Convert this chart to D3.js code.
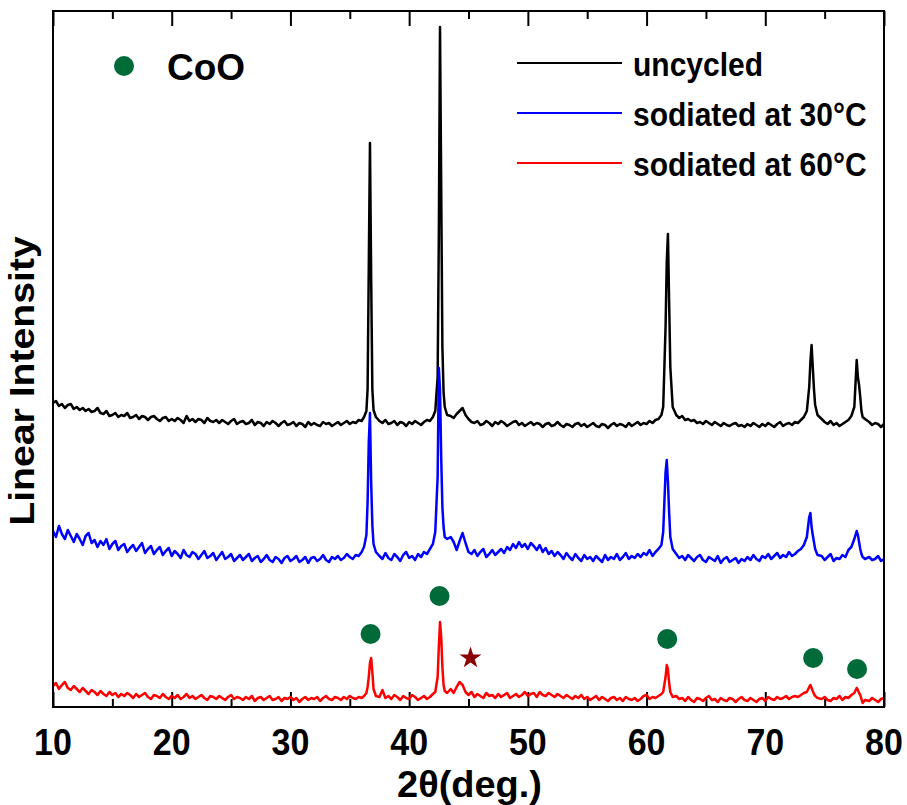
<!DOCTYPE html>
<html lang="en">
<head>
<meta charset="UTF-8"/>
<title>XRD patterns - CoO</title>
<script src="https://d3js.org/d3.v7.min.js"></script>
<style>
    body { margin: 0; background: #fff; }
    text { font-family: "Liberation Sans", Arial, sans-serif; font-weight: bold; }
</style>
</head>
<body>
<div id="chart"></div>
<script>
    // 2theta grid (deg.), finer around the reflections
    var twoTheta = [
        10, 10.25, 10.5, 10.75, 11, 11.25, 11.5, 11.75,
        12, 12.25, 12.5, 12.75, 13, 13.25, 13.5, 13.75,
        14, 14.25, 14.5, 14.75, 15, 15.25, 15.5, 15.75,
        16, 16.25, 16.5, 16.75, 17, 17.25, 17.5, 17.75,
        18, 18.25, 18.5, 18.75, 19, 19.25, 19.5, 19.75,
        20, 20.25, 20.5, 20.75, 21, 21.25, 21.5, 21.75,
        22, 22.25, 22.5, 22.75, 23, 23.25, 23.5, 23.75,
        24, 24.25, 24.5, 24.75, 25, 25.25, 25.5, 25.75,
        26, 26.25, 26.5, 26.75, 27, 27.25, 27.5, 27.75,
        28, 28.25, 28.5, 28.75, 29, 29.25, 29.5, 29.75,
        30, 30.25, 30.5, 30.75, 31, 31.25, 31.5, 31.75,
        32, 32.25, 32.5, 32.75, 33, 33.25, 33.5, 33.75,
        34, 34.25, 34.5, 34.75, 35, 35.25, 35.5, 35.75,
        36,
        36.2, 36.4, 36.5, 36.6, 36.7, 36.8, 36.9, 37.0, 37.2,
        37.5, 37.75, 38, 38.25, 38.5, 38.75, 39, 39.25, 39.5, 39.75,
        40, 40.25, 40.5, 40.75, 41, 41.25, 41.5, 41.75, 42,
        42.2, 42.4, 42.5, 42.6, 42.7, 42.8, 42.9, 43.0, 43.2,
        43.5, 43.75, 44, 44.25, 44.5, 44.75, 45, 45.25,
        45.5, 45.75, 46, 46.25, 46.5, 46.75, 47, 47.25,
        47.5, 47.75, 48, 48.25, 48.5, 48.75, 49, 49.25,
        49.5, 49.75, 50, 50.25, 50.5, 50.75, 51, 51.25,
        51.5, 51.75, 52, 52.25, 52.5, 52.75, 53, 53.25,
        53.5, 53.75, 54, 54.25, 54.5, 54.75, 55, 55.25,
        55.5, 55.75, 56, 56.25, 56.5, 56.75, 57, 57.25,
        57.5, 57.75, 58, 58.25, 58.5, 58.75, 59, 59.25,
        59.5, 59.75, 60, 60.25, 60.5, 60.75, 61, 61.25,
        61.4, 61.6, 61.7, 61.8, 61.9, 62.0, 62.2,
        62.5, 62.75, 63, 63.25, 63.5, 63.75, 64, 64.25,
        64.5, 64.75, 65, 65.25, 65.5, 65.75, 66, 66.25,
        66.5, 66.75, 67, 67.25, 67.5, 67.75, 68, 68.25,
        68.5, 68.75, 69, 69.25, 69.5, 69.75, 70, 70.25,
        70.5, 70.75, 71, 71.25, 71.5, 71.75, 72, 72.25,
        72.5, 72.75, 73, 73.25, 73.5,
        73.7, 73.8, 73.9, 74.0, 74.1, 74.2, 74.4,
        74.75, 75, 75.25, 75.5, 75.75, 76, 76.25, 76.5, 76.75, 77, 77.25, 77.5,
        77.7, 77.8, 77.9, 78.0, 78.1, 78.2, 78.4,
        78.75, 79, 79.25, 79.5, 79.75, 80
    ];

    // intensities (a.u., stacking offset included)
    var uncycled = [
        304, 306, 301, 303, 299, 302, 303, 298,
        300, 297, 299, 296, 298, 295, 296, 299,
        294, 293, 296, 291, 292, 294, 290, 292,
        291, 294, 289, 290, 292, 288, 291, 290,
        287, 290, 291, 288, 286, 289, 290, 286,
        288, 286, 289, 287, 284, 291, 286, 288,
        285, 288, 287, 284, 289, 286, 285, 287,
        284, 287, 285, 283, 286, 288, 283, 285,
        286, 283, 284, 287, 282, 285, 284, 281,
        285, 283, 286, 284, 281, 284, 286, 282,
        283, 285, 281, 284, 283, 280, 285, 282,
        284, 282, 281, 285, 283, 284, 281, 283,
        285, 282, 284, 286, 283, 285, 284, 287,
        286,
        290, 296, 318, 440, 564, 430, 318, 297, 290,
        286, 284, 287, 283, 284, 286, 282, 285, 284, 281,
        285, 283, 286, 284, 282, 285, 287, 286, 290,
        296, 330, 470, 680, 520, 360, 315, 300, 292,
        291, 289, 293, 296, 299, 292, 288, 285,
        284, 286, 282, 283, 286, 284, 281, 285,
        283, 286, 284, 281, 283, 285, 286, 282,
        284, 281, 283, 285, 282, 284, 283, 280,
        283, 284, 281, 282, 285, 282, 280, 283,
        282, 280, 283, 284, 281, 283, 280, 282,
        284, 281, 280, 283, 282, 279, 282, 284,
        281, 283, 282, 280, 284, 281, 283, 285,
        282, 284, 283, 286, 284, 287, 288, 292,
        300, 380, 445, 473, 405, 340, 300,
        292, 289, 291, 287, 288, 286, 287, 284,
        285, 283, 286, 284, 282, 285, 283, 281,
        284, 282, 281, 283, 284, 281, 282, 280,
        283, 281, 284, 282, 280, 283, 281, 284,
        282, 280, 283, 285, 281, 283, 284, 282,
        285, 284, 287, 290, 296,
        320, 345, 362, 340, 318, 302, 292,
        288, 285, 283, 286, 282, 284, 281, 283, 285, 287, 291, 300,
        347, 330, 322, 310, 296, 290, 288,
        285, 282, 284, 283, 280, 283
    ];

    var sodiated30 = [
        176, 170, 181, 173, 168, 177, 171, 165,
        173, 168, 162, 171, 174, 164, 167, 160,
        166, 162, 168, 158, 163, 166, 157, 161,
        163, 155, 159, 162, 156, 160, 164, 154,
        158, 161, 153, 157, 160, 152, 156, 159,
        151, 156, 153, 149, 157, 152, 150, 155,
        153, 148, 152, 156, 149, 151, 154, 147,
        151, 155, 148, 150, 153, 146, 149, 152,
        147, 150, 153, 146, 149, 151, 145, 148,
        152, 147, 145, 150, 148, 144, 149, 151,
        146, 148, 151, 145, 147, 150, 144, 149,
        150, 146, 148, 152, 147, 145, 150, 148,
        151, 147, 149, 153, 150, 148, 152, 151,
        155,
        160, 172, 205, 265, 294, 225, 182, 163, 155,
        151, 148, 154, 149, 147, 153, 150, 146, 152, 155,
        149, 151, 147, 153, 150, 155, 153, 158, 163,
        175, 230, 339, 318, 250, 200, 180, 170, 168,
        170, 165, 157, 166, 174, 164, 155, 153,
        157, 151, 155, 158, 150, 153, 157, 152,
        155, 158, 154, 160, 157, 163, 159, 165,
        160, 163, 158, 164, 161, 157, 162, 155,
        159, 153, 156, 151, 155, 152, 148, 154,
        150, 147, 153, 149, 146, 152, 148, 150,
        146, 151, 148, 145, 152, 147, 150, 148,
        153, 147, 150, 154, 148, 151, 149, 153,
        150, 154, 152, 157, 151, 155, 158, 162,
        175, 235, 247, 225, 195, 170, 158,
        153, 149, 151, 147, 152, 149, 146, 150,
        152, 147, 145, 150, 148, 146, 151, 144,
        148, 150, 145, 147, 149, 144, 148, 146,
        150, 147, 152, 148, 146, 151, 149, 153,
        148, 151, 154, 149, 152, 150, 155, 151,
        153, 156, 158, 162, 170,
        190, 194, 180, 172, 165, 158, 152,
        151, 147, 150, 153, 146, 149, 148, 152, 150, 157, 160, 168,
        176, 172, 165, 158, 153, 150, 148,
        150, 147, 148, 151, 146, 148
    ];

    var sodiated60 = [
        21, 24, 18, 22, 25, 19, 17, 21,
        18, 15, 19, 16, 13, 17, 15, 12,
        16, 13, 11, 15, 12, 14, 10, 13,
        11, 14, 12, 9, 13, 10, 12, 14,
        10, 8, 12, 11, 9, 13, 10, 8,
        11, 9, 12, 8, 10, 13, 9, 11,
        8, 10, 12, 9, 7, 11, 10, 8,
        11, 9, 7, 10, 12, 8, 10, 9,
        7, 10, 8, 11, 6, 9, 10, 7,
        9, 11, 7, 8, 10, 6, 9, 8,
        10, 7, 9, 5, 8, 10, 7, 9,
        8, 10, 6, 9, 11, 8, 7, 10,
        9, 7, 10, 8, 11, 9, 8, 10,
        9,
        11, 14, 20, 30, 44, 49, 35, 18, 11,
        10, 17, 9, 11, 8, 12, 10, 7, 11, 9,
        8, 12, 10, 7, 9, 11, 8, 10, 13,
        15, 30, 60, 85, 70, 40, 22, 16, 14,
        18, 14, 20, 25, 22, 15, 12, 15,
        10, 13, 11, 9, 14, 11, 12, 9,
        13, 10, 12, 14, 9, 11, 13, 10,
        12, 15, 11, 13, 14, 10, 15, 12,
        11, 14, 12, 10, 13, 11, 9, 12,
        10, 8, 11, 9, 12, 8, 10, 7,
        9, 11, 7, 10, 8, 6, 9, 10,
        7, 9, 6, 10, 8, 7, 9, 6,
        8, 11, 12, 8, 10, 9, 11, 13,
        15, 30, 42, 38, 24, 15, 10,
        11, 8, 9, 6, 10, 7, 5, 9,
        8, 6, 9, 11, 7, 8, 5, 9,
        7, 6, 9, 8, 5, 8, 10, 7,
        6, 9, 7, 5, 8, 9, 6, 10,
        8, 7, 10, 8, 9, 11, 8, 10,
        11, 10, 12, 14, 15,
        20, 22, 19, 16, 13, 11, 9,
        8, 10, 7, 6, 9, 8, 11, 7, 10, 9, 12, 14,
        19, 17, 14, 12, 8, 4, 7,
        6, 9, 7, 5, 8, 9
    ];

    var seriesNames = ["uncycled", "sodiated at 30°C", "sodiated at 60°C"];
    var seriesColors = ["#000000", "#0000ff", "#ff0000"];

    // CoO reflections (circles) and the extra phase (star)
    var cooAngles = [36.75, 42.56, 61.74, 74.03, 77.73];
    var cooLevels = [73, 111, 68, 49, 38];
    var starAngle = [45.17];
    var starLevel = [49];

    var xMajorTicks = [10, 20, 30, 40, 50, 60, 70, 80];
    var xMinorTicks = [15, 25, 35, 45, 55, 65, 75];

    [uncycled, sodiated30, sodiated60].forEach(function (s, i) {
        if (s.length !== twoTheta.length) {
            throw new Error("length mismatch in series " + i + ": " + s.length + " vs " + twoTheta.length);
        }
    });

    let width = 907;
    let height = 805;
    var margin = {top: 11, right: 23, bottom: 98, left: 53};
    var plotW = width - margin.left - margin.right;
    var plotH = height - margin.top - margin.bottom;

    var xScale = d3.scaleLinear().domain([10, 80]).range([margin.left, margin.left + plotW]);
    var yScale = d3.scaleLinear().domain([0, 696]).range([margin.top + plotH, margin.top]);

    var svg = d3.select("#chart").append("svg")
        .attr("width", width).attr("height", height)
        .style("background", "#fff");

    // ticks, pointing inward on bottom and top
    function tickAxis(axis, values, size, y) {
        var g = svg.append("g")
            .attr("transform", "translate(0," + y + ")")
            .call(axis.scale(xScale).tickValues(values).tickSizeInner(-size).tickSizeOuter(0).tickFormat(""));
        g.select(".domain").remove();
        g.selectAll("line").attr("stroke", "#000").attr("stroke-width", 2);
    }
    tickAxis(d3.axisBottom(), xMajorTicks, 15, margin.top + plotH);
    tickAxis(d3.axisBottom(), xMinorTicks, 8, margin.top + plotH);
    tickAxis(d3.axisTop(), xMajorTicks, 15, margin.top);
    tickAxis(d3.axisTop(), xMinorTicks, 8, margin.top);

    // curves
    var line = d3.line()
        .x(function (d) { return xScale(d[0]); })
        .y(function (d) { return yScale(d[1]); });

    [uncycled, sodiated30, sodiated60].forEach(function (s, i) {
        var pts = twoTheta.map(function (t, k) { return [t, s[k]]; });
        svg.append("path")
            .datum(pts)
            .attr("d", line)
            .attr("fill", "none")
            .attr("stroke", seriesColors[i])
            .attr("stroke-width", 2.5)
            .attr("stroke-linejoin", "round");
    });

    // frame
    svg.append("rect")
        .attr("x", margin.left).attr("y", margin.top)
        .attr("width", plotW).attr("height", plotH)
        .attr("fill", "none").attr("stroke", "#000").attr("stroke-width", 2);

    // CoO markers
    svg.selectAll("circle.coo")
        .data(cooAngles)
        .enter()
        .append("circle")
        .attr("class", "coo")
        .attr("cx", function (d) { return xScale(d); })
        .attr("cy", function (d, i) { return yScale(cooLevels[i]); })
        .attr("r", 10)
        .attr("fill", "#006a38");

    svg.selectAll("path.star")
        .data(starAngle)
        .enter()
        .append("path")
        .attr("class", "star")
        .attr("d", d3.symbol().type(d3.symbolStar).size(150))
        .attr("transform", function (d, i) {
            return "translate(" + xScale(d) + "," + yScale(starLevel[i]) + ")";
        })
        .attr("fill", "#8b0000");

    // x tick labels
    svg.selectAll("text.xlab")
        .data(xMajorTicks)
        .enter()
        .append("text")
        .attr("class", "xlab")
        .attr("transform", function (d) { return "translate(" + xScale(d) + ",755) scale(1,1.1)"; })
        .attr("text-anchor", "middle")
        .attr("font-size", 34)
        .text(function (d) { return d; });

    // axis titles
    svg.append("text")
        .attr("transform", "translate(" + (margin.left + plotW / 2 + 1) + ",797) scale(1,1.1)")
        .attr("text-anchor", "middle")
        .attr("font-size", 34)
        .attr("textLength", 145)
        .attr("lengthAdjust", "spacingAndGlyphs")
        .text("2θ(deg.)");

    svg.append("text")
        .attr("transform", "translate(34,381) scale(1,1.12) rotate(-90)")
        .attr("text-anchor", "middle")
        .attr("font-size", 35)
        .text("Linear Intensity");

    // legend for the markers
    svg.append("circle").attr("cx", 124).attr("cy", 66).attr("r", 10).attr("fill", "#006a38");
    svg.append("text")
        .attr("x", 167).attr("y", 80)
        .attr("font-size", 37)
        .text("CoO");

    // legend for the curves
    var legend = svg.selectAll("g.legend")
        .data(seriesNames)
        .enter()
        .append("g")
        .attr("class", "legend")
        .attr("transform", function (d, i) { return "translate(517," + (63 + i * 50) + ")"; });
    legend.append("line")
        .attr("x1", 0).attr("x2", 105).attr("y1", 0).attr("y2", 0)
        .attr("stroke", function (d, i) { return seriesColors[i]; })
        .attr("stroke-width", 2);
    legend.append("text")
        .attr("transform", "translate(116,13) scale(1,1.1)")
        .attr("font-size", 30)
        .text(function (d) { return d; });
</script>
</body>
</html>
